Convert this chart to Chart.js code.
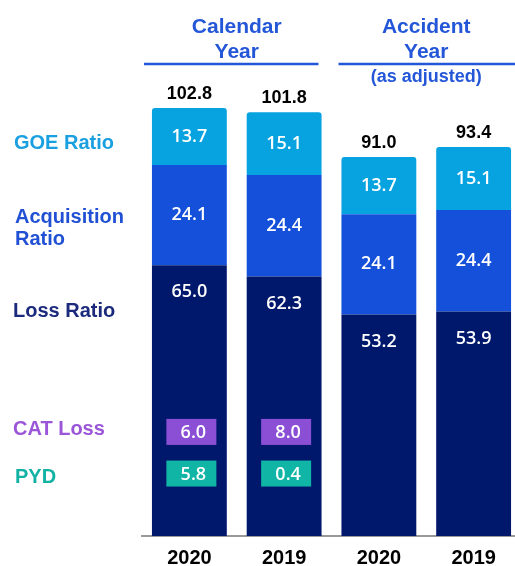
<!DOCTYPE html>
<html>
<head>
<meta charset="utf-8">
<script src="https://cdn.jsdelivr.net/npm/chart.js@4"></script>
<style>
  html, body { margin: 0; padding: 0; background: #fff; overflow: hidden; }
  #wrap { width: 530px; height: 566px; overflow: hidden; }
</style>
</head>
<body>
<div id="wrap"><canvas id="chartRatios" width="530" height="580"></canvas></div>
<script>
// data
var years = ["2020", "2019", "2020", "2019"];
var lossRatio = [65.0, 62.3, 53.2, 53.9];
var acqRatio = [24.1, 24.4, 24.1, 24.4];
var goeRatio = [13.7, 15.1, 13.7, 15.1];
var totals = ["102.8", "101.8", "91.0", "93.4"];
var catLoss = [6.0, 8.0];
var pyd = [5.8, 0.4];

var colGoe = "#06a3e0";
var colAcq = "#1550da";
var colLoss = "#00186c";

// text, boxes and headers drawn on top of the bars
var extras = {
    id: "extras",
    afterDatasetsDraw: function(chart) {
        var ctx = chart.ctx;
        var x = chart.scales.x, y = chart.scales.y;
        ctx.save();
        ctx.textBaseline = "middle";
        ctx.textAlign = "center";

        // values in the segments
        ctx.fillStyle = "#fff";
        ctx.font = "600 18px 'Open Sans'";
        chart.data.datasets.forEach(function(ds, i) {
            var meta = chart.getDatasetMeta(i);
            meta.data.forEach(function(bar, j) {
                var ty = (bar.y + bar.base) / 2;
                if (i == 0) ty = bar.y + 27;
                ctx.fillText(ds.data[j].toFixed(1), bar.x, ty);
            });
        });

        // totals above the bars
        var top = chart.getDatasetMeta(2);
        ctx.fillStyle = "#000";
        ctx.font = "bold 18px 'Liberation Sans'";
        top.data.forEach(function(bar, j) {
            ctx.fillText(totals[j], bar.x, bar.y - 14);
        });

        // CAT loss and PYD boxes
        function box(vals, v, color) {
            vals.forEach(function(val, j) {
                var cx = x.getPixelForValue(j) + 2;
                var cy = y.getPixelForValue(v);
                ctx.fillStyle = color;
                ctx.fillRect(cx - 25, cy - 13, 50, 26);
                ctx.fillStyle = "#fff";
                ctx.font = "600 18px 'Open Sans'";
                ctx.fillText(val.toFixed(1), cx + 2, cy + 1);
            });
        }
        box(catLoss, 25.0, "#8b4fd6");
        box(pyd, 15.0, "#10b5a6");

        // left labels
        ctx.textAlign = "left";
        ctx.font = "bold 20px 'Liberation Sans'";
        ctx.fillStyle = "#1a9fe0";
        ctx.fillText("GOE Ratio", 14, y.getPixelForValue(94.3));
        ctx.fillStyle = "#2150d4";
        ctx.fillText("Acquisition", 15, y.getPixelForValue(76.6));
        ctx.fillText("Ratio", 15, y.getPixelForValue(71.3));
        ctx.fillStyle = "#1b2a7c";
        ctx.fillText("Loss Ratio", 13, y.getPixelForValue(53.9));
        ctx.fillStyle = "#9a55d8";
        ctx.fillText("CAT Loss", 13, y.getPixelForValue(25.7));
        ctx.fillStyle = "#12b2a4";
        ctx.fillText("PYD", 15, y.getPixelForValue(14.0));

        // group headers
        ctx.textAlign = "center";
        ctx.fillStyle = "#2456d8";
        ctx.strokeStyle = "#2456d8";
        ctx.lineWidth = 2.5;
        var step = x.getPixelForValue(1) - x.getPixelForValue(0);
        var c1 = (x.getPixelForValue(0) + x.getPixelForValue(1)) / 2;
        var c2 = (x.getPixelForValue(2) + x.getPixelForValue(3)) / 2;
        ctx.font = "bold 21px 'Liberation Sans'";
        ctx.fillText("Calendar", c1, 27);
        ctx.fillText("Year", c1, 52);
        ctx.fillText("Accident", c2, 27);
        ctx.fillText("Year", c2, 52);
        ctx.font = "bold 18px 'Liberation Sans'";
        ctx.fillText("(as adjusted)", c2, 77);
        ctx.beginPath();
        ctx.moveTo(c1 - step + 2, 64);
        ctx.lineTo(c1 + step - 13, 64);
        ctx.moveTo(c2 - step + 7, 64);
        ctx.lineTo(c2 + step - 6, 64);
        ctx.stroke();
        ctx.restore();
    }
};

var ctr = document.getElementById("chartRatios");
var ratios = new Chart(ctr, {
    type: "bar",
    data: {
        labels: years,
        datasets: [
            { label: "Loss Ratio", data: lossRatio, backgroundColor: colLoss },
            { label: "Acquisition Ratio", data: acqRatio, backgroundColor: colAcq },
            { label: "GOE Ratio", data: goeRatio, backgroundColor: colGoe,
              borderRadius: { topLeft: 3, topRight: 3 }, borderSkipped: false }
        ]
    },
    options: {
        responsive: false,
        animation: false,
        layout: { padding: { left: 142, right: 9, top: 78, bottom: 0 } },
        datasets: { bar: { categoryPercentage: 1, barPercentage: 0.79 } },
        plugins: { legend: { display: false }, tooltip: { enabled: false } },
        scales: {
            x: {
                stacked: true,
                grid: { display: false, drawTicks: false },
                border: { color: "#999", width: 2 },
                ticks: { color: "#000", padding: 10, font: { family: "Liberation Sans", size: 20, weight: "bold" } }
            },
            y: { stacked: true, display: false, min: 0, max: 110 }
        }
    },
    plugins: [extras]
});
</script>
</body>
</html>
